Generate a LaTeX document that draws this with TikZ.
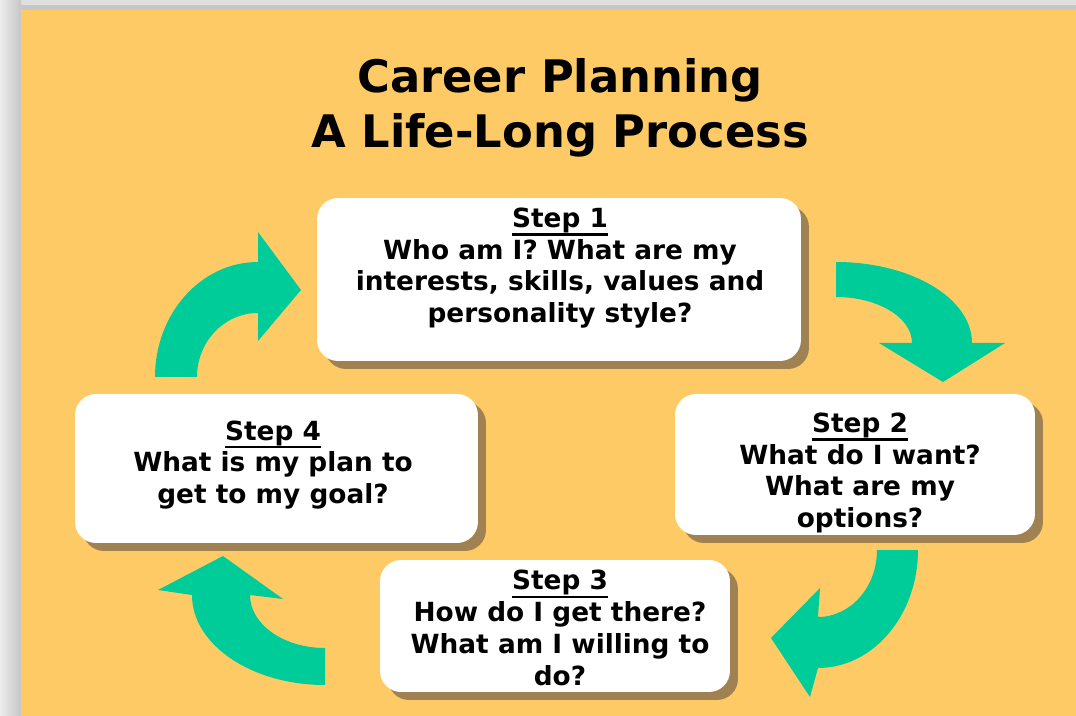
\documentclass[tikz,border=0pt]{standalone}
\usepackage{fontspec}
\setmainfont{DejaVu Sans}
\usepackage{tikz}
\usetikzlibrary{shapes.geometric}
\usetikzlibrary{shadows,positioning}
\definecolor{bgorange}{RGB}{254,202,102}
\definecolor{arrowgreen}{RGB}{0,204,153}
\definecolor{shadowbrown}{RGB}{160,130,82}
\newcommand\ulstep[1]{\leavevmode\vtop{\hbox{#1}\kern0.3pt\hrule height 1.3pt}}

\begin{document}
\begin{tikzpicture}[x=0.02cm,y=-0.02cm]
\tikzstyle{stepbox}=[rectangle,rounded corners=0.42cm,fill=white,inner sep=0pt,
  drop shadow={shadow xshift=0.16cm,shadow yshift=-0.16cm,fill=shadowbrown,opacity=1}]
\tikzstyle{steptext}=[align=center,inner sep=0pt,font=\bfseries\fontsize{15}{18.1}\selectfont]
\tikzstyle{title}=[align=center,font=\bfseries\fontsize{25.5}{31}\selectfont]
\tikzstyle{flowarrow}=[fill=arrowgreen,draw=none]
\useasboundingbox (0,0) rectangle (1076,716);
% frame and background
\fill [gray!25] (0,0) rectangle (1076,716);
\shade [left color=gray!15,right color=gray!45] (0,0) rectangle (21,716);
\fill [gray!45] (21,5) rectangle (1076,10);
\fill [bgorange] (21,10) rectangle (1076,716);
% title
\node [title] (0) at (560,108) {Career Planning\\A Life-Long Process};
% steps
\node [stepbox,minimum width=9.68cm,minimum height=3.26cm] (1) at (559,279.5) {};
\node [stepbox,minimum width=7.2cm,minimum height=2.82cm] (2) at (855,464.5) {};
\node [stepbox,minimum width=7.0cm,minimum height=2.64cm] (3) at (555,626) {};
\node [stepbox,minimum width=8.06cm,minimum height=2.98cm] (4) at (276.5,468.5) {};
\node [steptext] (1t) at (560,268) {\ulstep{Step 1}\\Who am I? What are my\\interests, skills, values and\\personality style?};
\node [steptext] (2t) at (860,473) {\ulstep{Step 2}\\What do I want?\\What are my\\options?};
\node [steptext] (3t) at (560,628) {\ulstep{Step 3}\\How do I get there?\\What am I willing to\\do?};
\node [steptext] (4t) at (273,465) {\ulstep{Step 4}\\What is my plan to\\get to my goal?};
% arrows
\fill [flowarrow] (155,377) arc[start angle=180,end angle=270,x radius=103,y radius=115]
  -- (258,232) -- (301,290) -- (258,341) -- (258,313)
  arc[start angle=270,end angle=180,x radius=61,y radius=64] -- cycle;
\fill [flowarrow] (836,262) arc[start angle=270,end angle=360,x radius=136,y radius=81]
  -- (1005,343) -- (943,382) -- (879,343) -- (912,343)
  arc[start angle=0,end angle=-90,x radius=76,y radius=46] -- cycle;
\fill [flowarrow] (918,550) arc[start angle=0,end angle=90,x radius=100,y radius=118]
  -- (810,697) -- (771,638) -- (820,588) -- (818,617)
  arc[start angle=90,end angle=0,x radius=59,y radius=67] -- cycle;
\fill [flowarrow] (325,685) arc[start angle=90,end angle=180,x radius=133,y radius=90]
  -- (158,590) -- (223,556) -- (283,599) -- (250,595)
  arc[start angle=180,end angle=90,x radius=75,y radius=53] -- cycle;
\end{tikzpicture}
\end{document}
